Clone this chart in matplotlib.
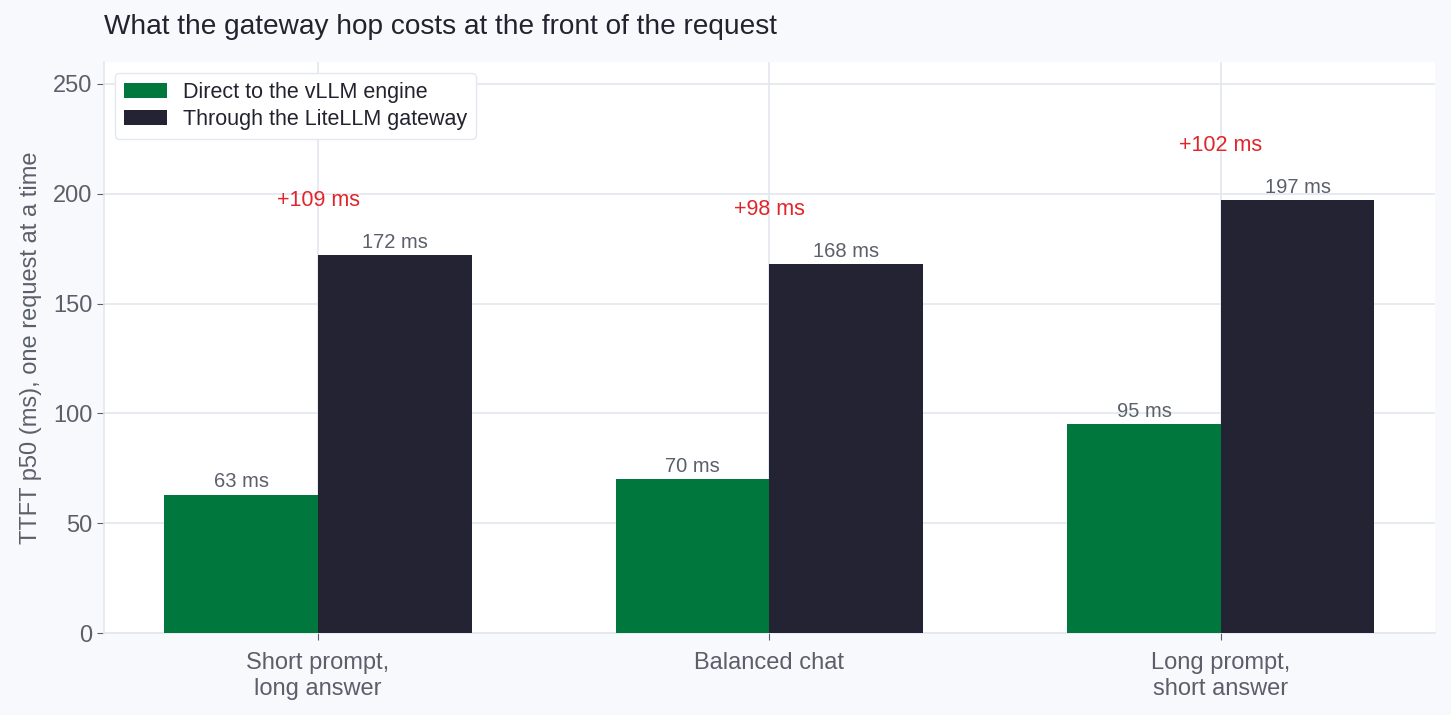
import matplotlib
matplotlib.use("Agg")
import matplotlib.pyplot as plt
import numpy as np

categories = ["Short prompt,\nlong answer", "Balanced chat", "Long prompt,\nshort answer"]
direct_ms = [63, 70, 95]
gateway_ms = [172, 168, 197]
series_labels = ["Direct to the vLLM engine", "Through the LiteLLM gateway"]
yticks = [0, 50, 100, 150, 200, 250]

plt.rcParams['font.family'] = ['Liberation Sans', 'DejaVu Sans']

BG = "#f8f9fd"
GRID = "#e3e7ef"
TXT = "#5a5f69"
GREEN = "#00773d"
DARK = "#242334"
RED = "#e0262a"

fig = plt.figure(figsize=(14.51, 7.15), dpi=100, facecolor=BG)
ax = fig.add_axes([104/1451, 1-633/715, (1435-104)/1451, (633-62)/715])
ax.set_facecolor("white")

x = np.arange(len(categories))
w = 0.34
ax.bar(x - w/2, direct_ms, w, color=GREEN, label=series_labels[0], zorder=3)
ax.bar(x + w/2, gateway_ms, w, color=DARK, label=series_labels[1], zorder=3)

for xi, v in zip(x - w/2, direct_ms):
    ax.text(xi, v + 1.5, f"{v} ms", ha="center", va="bottom", fontsize=14.5, color=TXT, zorder=4)
for xi, v in zip(x + w/2, gateway_ms):
    ax.text(xi, v + 1.5, f"{v} ms", ha="center", va="bottom", fontsize=14.5, color=TXT, zorder=4)
for xi, d, g in zip(x, direct_ms, gateway_ms):
    ax.text(xi, g + 25, f"+{g - d} ms", ha="center", va="center", fontsize=15.5, color=RED, zorder=4)

ax.set_xlim(-0.474, 2.474)
ax.set_ylim(0, 260)
ax.set_yticks(yticks)
ax.set_xticks(x)
ax.set_xticklabels(categories, fontsize=17, color=TXT, linespacing=1.2)
ax.tick_params(axis='y', labelsize=17, labelcolor=TXT, color=TXT, length=5)
ax.tick_params(axis='x', color=TXT, length=5, pad=9)
ax.grid(True, color=GRID, linewidth=1.2, zorder=0)
ax.set_axisbelow(True)
for s in ["top", "right"]:
    ax.spines[s].set_visible(False)
for s in ["left", "bottom"]:
    ax.spines[s].set_color(GRID)
    ax.spines[s].set_linewidth(1.2)

ax.set_ylabel("TTFT p50 (ms), one request at a time", fontsize=17, color=TXT, labelpad=8)
fig.text(104/1451, 1-27/715, "What the gateway hop costs at the front of the request",
         fontsize=20.2, color="#23232f", ha="left", va="center")

leg = ax.legend(loc="upper left", fontsize=15.5, frameon=True, fancybox=True,
                edgecolor=GRID, facecolor="white", framealpha=1,
                handlelength=2.0, handleheight=0.7, handletextpad=0.75,
                labelspacing=0.3, borderpad=0.4, borderaxespad=0,
                bbox_to_anchor=(11/1331, 1 - 11/571))
for t in leg.get_texts():
    t.set_color("#23232f")

fig.savefig("out.png", dpi=100, facecolor=BG)
